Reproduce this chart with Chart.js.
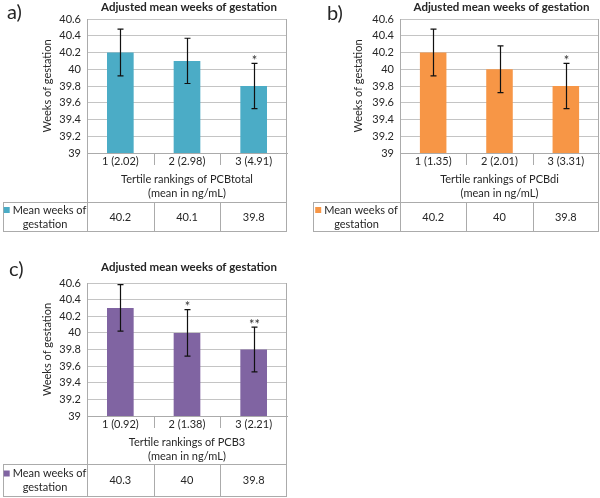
<!DOCTYPE html>
<html>
<head>
<meta charset="utf-8">
<script src="https://cdn.jsdelivr.net/npm/chart.js@4"></script>
<style>
  body { margin: 0; background: #fff; }
  #wrap { position: relative; width: 600px; height: 498px; }
  canvas { position: absolute; }
</style>
</head>
<body>
<div id="wrap">
  <canvas id="chartA" width="300" height="240" style="left:0;top:0"></canvas>
  <canvas id="chartB" width="300" height="240" style="left:300px;top:0"></canvas>
  <canvas id="chartC" width="300" height="248" style="left:0;top:250px"></canvas>
</div>
<script>
// y axis range shared by all three panels
const yMin = 39;
const yMax = 40.6;
const yStep = 0.2;

const chartTitle = "Adjusted mean weeks of gestation";
const yTitle = "Weeks of gestation";
const seriesLabel = ["Mean weeks of", "gestation"];

// panel a
const categoriesA = ["1 (2.02)", "2 (2.98)", "3 (4.91)"];
const valuesA = [40.2, 40.1, 39.8];
const errorsA = [0.28, 0.27, 0.27];
const starsA = ["", "", "*"];
const xTitleA = ["Tertile rankings of PCBtotal", "(mean in ng/mL)"];

// panel b
const categoriesB = ["1 (1.35)", "2 (2.01)", "3 (3.31)"];
const valuesB = [40.2, 40.0, 39.8];
const errorsB = [0.28, 0.28, 0.27];
const starsB = ["", "", "*"];
const xTitleB = ["Tertile rankings of PCBdi", "(mean in ng/mL)"];

// panel c
const categoriesC = ["1 (0.92)", "2 (1.38)", "3 (2.21)"];
const valuesC = [40.3, 40.0, 39.8];
const errorsC = [0.28, 0.28, 0.27];
const starsC = ["", "*", "**"];
const xTitleC = ["Tertile rankings of PCB3", "(mean in ng/mL)"];

Chart.defaults.font.family = "Lato, 'Open Sans', sans-serif";
Chart.defaults.color = "#262626";

const gridColor = "#C4C4C4";
const frameColor = "#ABABAB";
const font = "Lato, 'Open Sans', sans-serif";

function crisp(v) {
  return Math.round(v) + 0.5;
}

function makeExtras(p) {
  return {
    id: "extras",
    afterDatasetsDraw(chart) {
      const { ctx, scales: { y } } = chart;
      const meta = chart.getDatasetMeta(0);
      ctx.save();
      ctx.strokeStyle = "#111";
      ctx.lineWidth = 1.2;
      ctx.fillStyle = "#333";
      ctx.font = "13px " + font;
      ctx.textAlign = "center";
      ctx.textBaseline = "alphabetic";
      meta.data.forEach(function (bar, i) {
        const top = y.getPixelForValue(p.values[i] + p.errors[i]);
        const bot = y.getPixelForValue(p.values[i] - p.errors[i]);
        const bx = Math.round(bar.x) + 0.5;
        ctx.beginPath();
        ctx.moveTo(bx, top);
        ctx.lineTo(bx, bot);
        ctx.moveTo(bx - 3, top);
        ctx.lineTo(bx + 3, top);
        ctx.moveTo(bx - 3, bot);
        ctx.lineTo(bx + 3, bot);
        ctx.stroke();
        if (p.stars[i]) {
          ctx.fillText(p.stars[i], bx, top + 1.5);
        }
      });
      ctx.restore();
    },
    afterDraw(chart) {
      const { ctx, chartArea, scales: { x } } = chart;
      const half = (x.getPixelForValue(1) - x.getPixelForValue(0)) / 2;
      const tTop = x.bottom;
      const tBot = tTop + p.rowH;
      const L = crisp(chartArea.left);
      const R = crisp(chartArea.right - 1);
      ctx.save();
      ctx.strokeStyle = frameColor;
      ctx.lineWidth = 1;
      ctx.beginPath();
      // plot frame and its run down through the axis area
      ctx.moveTo(R, chartArea.top);
      ctx.lineTo(R, tBot);
      ctx.moveTo(L, chartArea.bottom);
      ctx.lineTo(L, tBot);
      // category separators under the axis and inside the table
      for (let i = 0; i < p.categories.length - 1; i++) {
        const sx = crisp(x.getPixelForValue(i) + half);
        ctx.moveTo(sx, chartArea.bottom);
        ctx.lineTo(sx, chartArea.bottom + 12);
        ctx.moveTo(sx, tTop);
        ctx.lineTo(sx, tBot);
      }
      // table box
      const tl = crisp(p.tableLeft);
      ctx.moveTo(tl, crisp(tTop));
      ctx.lineTo(R, crisp(tTop));
      ctx.moveTo(tl, crisp(tBot - 1));
      ctx.lineTo(R, crisp(tBot - 1));
      ctx.moveTo(tl, tTop);
      ctx.lineTo(tl, tBot);
      ctx.stroke();

      // table text
      const mid = (tTop + tBot) / 2;
      ctx.fillStyle = "#262626";
      ctx.font = "11px " + font;
      ctx.textBaseline = "middle";
      ctx.textAlign = "center";
      p.values.forEach(function (v, i) {
        ctx.fillText(String(v), x.getPixelForValue(i), mid);
      });
      const colC = (p.tableLeft + chartArea.left) / 2;
      const w1 = ctx.measureText(seriesLabel[0]).width;
      const start = colC - (w1 + 9) / 2;
      ctx.fillStyle = p.color;
      ctx.fillRect(start, mid - 7 - 3, 6, 6);
      ctx.fillStyle = "#262626";
      ctx.textAlign = "left";
      ctx.fillText(seriesLabel[0], start + 9, mid - 7);
      ctx.textAlign = "center";
      ctx.fillText(seriesLabel[1], colC, mid + 7);

      // chart title and panel letter
      ctx.font = "bold 11.5px " + font;
      ctx.fillText(chartTitle, (chartArea.left + chartArea.right) / 2 + 2, p.titleY);
      ctx.font = "20px " + font;
      ctx.textAlign = "left";
      ctx.fillText(p.letter, p.letterX, p.letterY);
      ctx.restore();
    }
  };
}

function makePanel(id, p) {
  const canvas = document.getElementById(id);
  new Chart(canvas.getContext("2d"), {
    type: "bar",
    data: {
      labels: p.categories,
      datasets: [
        {
          label: seriesLabel.join(" "),
          data: p.values,
          backgroundColor: p.color,
          borderWidth: 0,
          categoryPercentage: 1,
          barPercentage: 0.4,
        },
      ],
    },
    options: {
      responsive: false,
      animation: false,
      layout: {
        padding: {
          top: p.area.top,
          right: canvas.width - p.area.right,
          bottom: canvas.height - p.area.bottom - p.axisH,
          left: 0,
        },
      },
      plugins: {
        legend: { display: false },
        title: { display: false },
        tooltip: { enabled: false },
      },
      scales: {
        x: {
          grid: { display: false, drawTicks: false },
          border: { display: true, color: frameColor },
          ticks: { padding: 2, font: { size: 11 }, autoSkip: false, maxRotation: 0 },
          title: {
            display: true,
            text: p.xTitle,
            font: { size: 11, lineHeight: "14px" },
            padding: { top: 0, bottom: p.titlePad },
          },
          afterFit: function (scale) {
            scale.height = p.axisH;
          },
        },
        y: {
          min: yMin,
          max: yMax,
          grid: { color: gridColor, drawTicks: false },
          border: { display: true, color: frameColor },
          ticks: {
            stepSize: yStep,
            padding: 6,
            autoSkip: false,
            font: { size: 11 },
            callback: function (v) {
              return String(parseFloat(Number(v).toFixed(1)));
            },
          },
          title: {
            display: true,
            text: yTitle,
            font: { size: 11, lineHeight: "14px" },
            padding: { top: p.yTitleX - 7, bottom: 0 },
          },
          afterFit: function (scale) {
            scale.width = p.area.left;
          },
        },
      },
    },
    plugins: [makeExtras(p)],
  });
}

makePanel("chartA", {
  categories: categoriesA, values: valuesA, errors: errorsA, stars: starsA, xTitle: xTitleA,
  color: "#4BACC6", letter: "a)", letterX: 7, letterY: 13, titleY: 7,
  area: { left: 87, right: 287, top: 19, bottom: 153 }, axisH: 49, rowH: 30,
  tableLeft: 3, titlePad: 2, yTitleX: 47,
});
makePanel("chartB", {
  categories: categoriesB, values: valuesB, errors: errorsB, stars: starsB, xTitle: xTitleB,
  color: "#F79646", letter: "b)", letterX: 27, letterY: 14, titleY: 7,
  area: { left: 100, right: 299, top: 19, bottom: 153 }, axisH: 49, rowH: 30,
  tableLeft: 13, titlePad: 2, yTitleX: 58,
});
makePanel("chartC", {
  categories: categoriesC, values: valuesC, errors: errorsC, stars: starsC, xTitle: xTitleC,
  color: "#8064A2", letter: "c)", letterX: 9, letterY: 20, titleY: 17,
  area: { left: 87, right: 287, top: 33, bottom: 166 }, axisH: 48, rowH: 33,
  tableLeft: 3, titlePad: 1, yTitleX: 47,
});
</script>
</body>
</html>
